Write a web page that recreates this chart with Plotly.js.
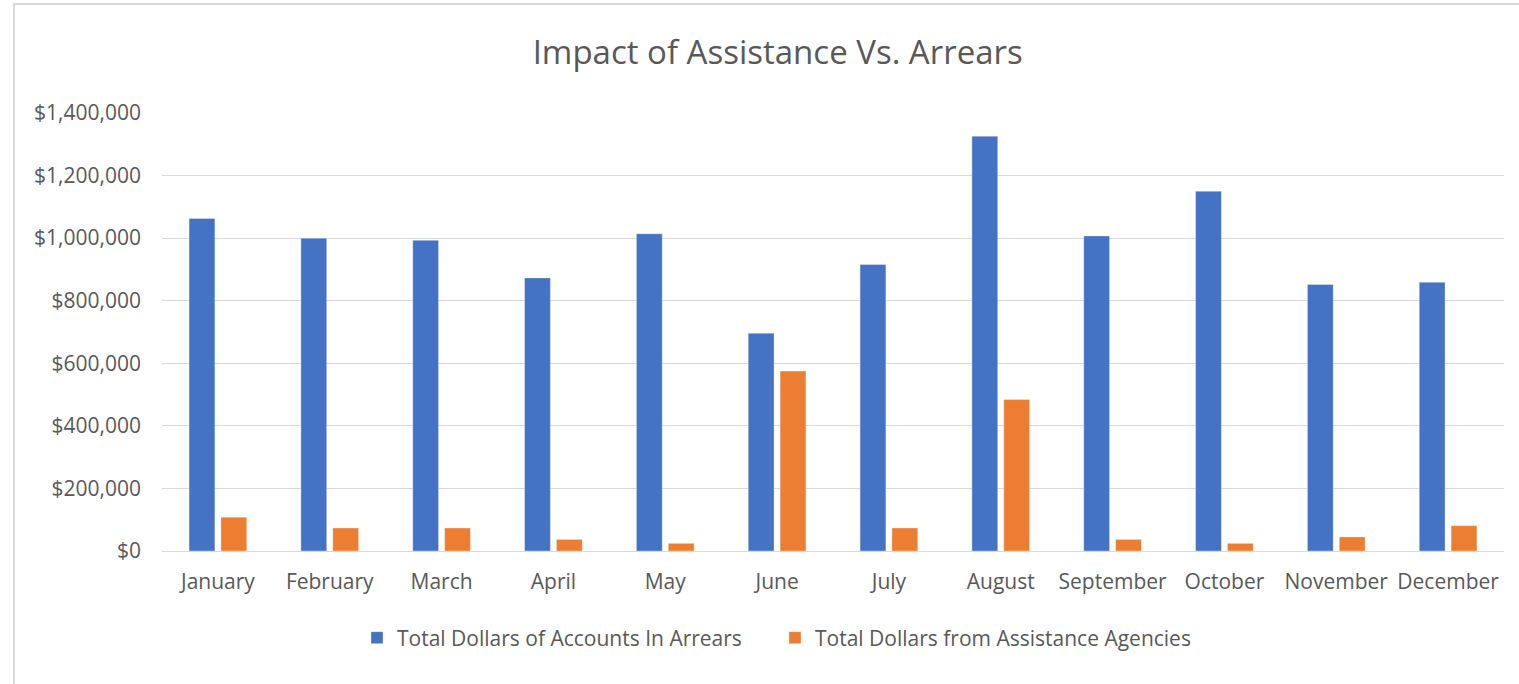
<!DOCTYPE html>
<html>
<head>
<meta charset="utf-8">
<script src="https://cdn.plot.ly/plotly-3.0.1.min.js"></script>
<style>
html,body{margin:0;padding:0;background:#fff;}
#wrap{position:relative;width:1519px;height:684px;overflow:hidden;}
#chart{position:absolute;left:0;top:0;width:1519px;height:684px;}
#frame{position:absolute;left:13px;top:3px;width:1520px;height:700px;border-left:2px solid #d9d9d9;border-top:2px solid #d9d9d9;pointer-events:none;}
</style>
</head>
<body>
<div id="wrap"><div id="chart"></div><div id="frame"></div></div>
<script>
const months = ["January","February","March","April","May","June","July","August","September","October","November","December"];
const arrears = [1063000, 1000000, 993000, 873000, 1014000, 696000, 916000, 1326000, 1007000, 1150000, 852000, 859000];
const assistance = [108000, 73500, 73500, 37000, 24500, 575000, 73500, 484000, 37000, 24500, 45000, 81000];
const seriesNames = ["Total Dollars of Accounts In Arrears", "Total Dollars from Assistance Agencies"];
const yTicks = [0, 200000, 400000, 600000, 800000, 1000000, 1200000, 1400000];
const yTickText = ["$0", "$200,000", "$400,000", "$600,000", "$800,000", "$1,000,000", "$1,200,000", "$1,400,000"];

const FONT = "Open Sans, sans-serif";
const TXT = "#595959";

const traces = [
  {type:"bar", name:seriesNames[0], x:months, y:arrears, marker:{color:"#4472C4", line:{color:"rgba(255,255,255,0.35)", width:1}}},
  {type:"bar", name:seriesNames[1], x:months, y:assistance, marker:{color:"#ED7D31", line:{color:"rgba(255,255,255,0.35)", width:1}}}
];

const layout = {
  width:1519, height:684,
  margin:{l:162, r:15, t:113, b:133},
  paper_bgcolor:"#fff", plot_bgcolor:"#fff",
  font:{family:FONT, color:TXT, size:21},
  title:{text:"Impact of Assistance Vs. Arrears", font:{family:FONT, size:33, color:TXT}, x:0.512, xref:"container", xanchor:"center", y:0.924, yref:"container", yanchor:"middle"},
  barmode:"group", bargap:0.43, bargroupgap:0.19,
  xaxis:{type:"category", tickfont:{family:FONT, size:21, color:TXT}, showgrid:false, showline:false, ticks:"", ticklabelstandoff:16},
  yaxis:{range:[0,1400000], tickmode:"array", tickvals:yTicks, ticktext:yTickText, tickfont:{family:FONT, size:21, color:TXT},
         showgrid:true, gridcolor:"#d9d9d9", gridwidth:1, zeroline:true, zerolinecolor:"#d9d9d9", zerolinewidth:1, showline:false, ticks:"", ticklabelstandoff:20},
  legend:{orientation:"h", x:0.1453, xanchor:"left", y:-0.1986, yanchor:"middle", font:{family:FONT, size:21, color:TXT}, entrywidth:373, entrywidthmode:"pixels", bgcolor:"rgba(0,0,0,0)"},
  showlegend:true
};

Plotly.newPlot("chart", traces, layout, {displayModeBar:false, staticPlot:true});
</script>
</body>
</html>
